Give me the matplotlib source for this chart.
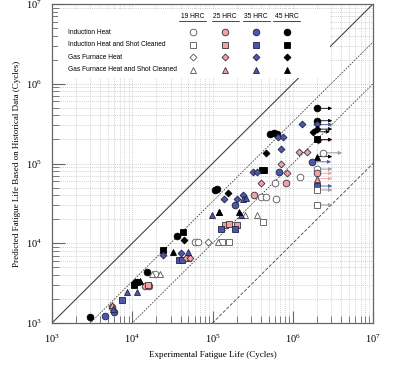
import matplotlib
matplotlib.use("Agg")
import matplotlib.pyplot as plt
from matplotlib.patches import Rectangle

# ---- data (cycles) -------------------------------------------------------
# Induction Heat (circles)
ih19_x = [19000, 60300, 66000, 407000, 468000, 617000, 603000, 1.23e6]
ih19_y = [4110, 10500, 10500, 38500, 38500, 36300, 56200, 68200]
ih25_x = [5550, 14500, 16000, 329000, 813000]
ih25_y = [1600, 2900, 2950, 40300, 56200]
ih35_x = [4570, 5870, 190000, 676000]
ih35_y = [1220, 1390, 30200, 78900]
ih45_x = [2980, 10800, 15400, 35800, 107000, 115000, 525000, 580000, 630000]
ih45_y = [1190, 3150, 4330, 12400, 46600, 47500, 234000, 240000, 236000]

# Induction Heat and Shot Cleaned (squares)
ihsc19_x = [130000, 161000, 427000]
ihsc19_y = [10500, 10500, 18600]
ihsc25_x = [15500, 50000, 143000, 160000, 200000]
ihsc25_y = [3000, 6500, 17000, 17500, 17000]
ihsc35_x = [7380, 38000, 41300, 129000, 190000]
ihsc35_y = [1940, 6170, 6170, 15000, 15000]
ihsc45_x = [10500, 11500, 24400, 42600, 410000, 440000]
ihsc45_y = [3000, 3300, 8220, 13700, 83200, 83200]

# Gas Furnace Heat (diamonds)
gf19_x = [88700]
gf19_y = [10500]
gf25_x = [47000, 52000, 398000, 713000, 841000, 1.2e6, 1.49e6]
gf25_y = [6500, 6500, 57500, 100000, 75300, 141000, 141000]
gf35_x = [24400, 40500, 140000, 200000, 243000, 324000, 355000, 713000,
          646000, 759000, 1.32e6]
gf35_y = [7130, 7590, 35500, 36300, 40000, 78900, 78900, 151000,
          217000, 217000, 309000]
gf45_x = [11500, 44600, 157000, 460000]
gf45_y = [3300, 11000, 43100, 136000]

# Gas Furnace Heat and Shot Cleaned (triangles)
gfsc19_x = [17800, 22000, 118000, 251000, 355000]
gfsc19_y = [4110, 4110, 10500, 22600, 22600]
gfsc25_x = [5600]
gfsc25_y = [1700]
gfsc35_x = [5700, 8670, 11500, 49000, 97700, 229000, 240000, 265000]
gfsc35_y = [1500, 2430, 2430, 7830, 22600, 22600, 35500, 36500]
gfsc45_x = [12500, 32500, 120000, 122000, 214000]
gfsc45_y = [3400, 7830, 24900, 24400, 24400]

# run-outs (no failure): start, arrow end, level, treatment, hardness
run_x = [2.0e6, 2.0e6, 2.0e6, 1.8e6, 2.0e6, 2.05e6, 2.0e6, 2.4e6, 2.0e6,
         1.74e6, 2.0e6, 2.0e6, 2.0e6, 2.0e6, 2.0e6, 2.0e6]
run_end = [3.1e6, 3.1e6, 3.1e6, 2.9e6, 3.1e6, 3.1e6, 3.1e6, 4.1e6, 3.1e6,
           3.0e6, 3.1e6, 3.1e6, 3.1e6, 3.1e6, 3.1e6, 3.1e6]
run_y = [492000, 344000, 309000, 250000, 270000, 195000, 200000, 136000,
         122000, 105000, 85100, 75300, 64600, 52200, 46600, 30200]
run_treat = ["IH", "IH", "GF", "GF", "GF", "GF", "IHSC", "IH", "GFSC",
             "IH", "IH", "IH", "GFSC", "IHSC", "IHSC", "IHSC"]
run_hrc = [45, 45, 35, 45, 45, 25, 45, 19, 45, 35, 19, 25, 25, 35, 19, 19]

treatments = ["Induction Heat", "Induction Heat and Shot Cleaned",
              "Gas Furnace Heat", "Gas Furnace Heat and Shot Cleaned"]
hardness = ["19 HRC", "25 HRC", "35 HRC", "45 HRC"]

# ---- style ---------------------------------------------------------------
MARK = {"IH": "o", "IHSC": "s", "GF": "D", "GFSC": "^"}
SIZE = {"IH": 4.8, "IHSC": 4.6, "GF": 3.5, "GFSC": 4.8}
FILL = {19: "white", 25: "#f2a0a8", 35: "#4b58a8", 45: "black"}
EDGE = {19: "#555555", 25: "#333333", 35: "#222244", 45: "black"}
SERIF = "Liberation Serif"
SANS = "Liberation Sans"

series = [
    ("IH", 19, ih19_x, ih19_y), ("IH", 25, ih25_x, ih25_y),
    ("IH", 35, ih35_x, ih35_y), ("IH", 45, ih45_x, ih45_y),
    ("IHSC", 19, ihsc19_x, ihsc19_y), ("IHSC", 25, ihsc25_x, ihsc25_y),
    ("IHSC", 35, ihsc35_x, ihsc35_y), ("IHSC", 45, ihsc45_x, ihsc45_y),
    ("GF", 19, gf19_x, gf19_y), ("GF", 25, gf25_x, gf25_y),
    ("GF", 35, gf35_x, gf35_y), ("GF", 45, gf45_x, gf45_y),
    ("GFSC", 19, gfsc19_x, gfsc19_y), ("GFSC", 25, gfsc25_x, gfsc25_y),
    ("GFSC", 35, gfsc35_x, gfsc35_y), ("GFSC", 45, gfsc45_x, gfsc45_y),
]

fig = plt.figure(figsize=(4.0, 3.68), dpi=100)
ax = fig.add_axes([0.13, 0.1223, 0.8025, 0.8668])
ax.set_xscale("log")
ax.set_yscale("log")
ax.set_xlim(1e3, 1e7)
ax.set_ylim(1e3, 1e7)

ax.grid(True, which="both", color="#c4c4c4", linestyle=(0, (1.5, 1.5)),
        linewidth=0.5)
ax.set_axisbelow(True)

# 1:1, 1:3, 1:10 and 1:100 reference lines
ref = [1e3, 1e7]
ax.plot(ref, ref, color="#444444", lw=0.8, zorder=2)
ax.plot(ref, [v / 3 for v in ref], color="#444444", lw=0.6,
        ls=(0, (2, 1.5)), zorder=2)
ax.plot(ref, [v / 10 for v in ref], color="#444444", lw=0.6,
        ls=(0, (2, 1.5)), zorder=2)
ax.plot(ref, [v / 100 for v in ref], color="#444444", lw=0.6,
        ls=(0, (4, 2)), zorder=2)

for t, h, xs, ys in series:
    ax.plot(xs, ys, ls="none", marker=MARK[t], ms=SIZE[t],
            mfc=FILL[h], mec=EDGE[h], mew=0.6, zorder=4)

for x0, x1, y, t, h in zip(run_x, run_end, run_y, run_treat, run_hrc):
    col = "#888888" if h == 19 else FILL[h]
    ax.annotate("", xy=(x1, y), xytext=(x0, y), zorder=3,
                arrowprops=dict(arrowstyle="-|>", color=col, lw=0.6,
                                mutation_scale=5, shrinkA=0, shrinkB=0,
                                fc="white" if h == 19 else col))
    ax.plot([x0], [y], ls="none", marker=MARK[t], ms=SIZE[t],
            mfc=FILL[h], mec=EDGE[h], mew=0.6, zorder=4)

# legend panel: white box over the grid
ax.add_patch(Rectangle((0.019, 0.768), 0.847, 0.213, transform=ax.transAxes,
                       facecolor="white", edgecolor="none", zorder=5))
row_y = [0.912, 0.872, 0.833, 0.794]
col_x = [0.439, 0.539, 0.636, 0.732]
codes = ["IH", "IHSC", "GF", "GFSC"]
levels = [19, 25, 35, 45]
for i, name in enumerate(treatments):
    ax.text(0.05, row_y[i], name, transform=ax.transAxes, fontsize=4.8,
            family=SANS, va="center", zorder=6)
    for j, h in enumerate(levels):
        ax.plot([col_x[j]], [row_y[i]], transform=ax.transAxes, ls="none",
                marker=MARK[codes[i]], ms=SIZE[codes[i]], mfc=FILL[h],
                mec=EDGE[h], mew=0.6, zorder=6, clip_on=False)
for j, lab in enumerate(hardness):
    ax.text(col_x[j], 0.962, lab, transform=ax.transAxes, fontsize=4.8,
            family=SANS, ha="center", va="center", zorder=6)
    ax.plot([col_x[j] - 0.042, col_x[j] + 0.042], [0.947, 0.947],
            transform=ax.transAxes, color="black", lw=0.5, zorder=6)

# axes styling
for s in ax.spines.values():
    s.set_color("#666666")
    s.set_linewidth(0.9)
ax.tick_params(which="both", direction="in", top=False, right=False,
               color="#666666")
ax.tick_params(which="major", length=9, width=0.8, labelsize=7.5, pad=7)
ax.tick_params(which="minor", length=5, width=0.6)
for lab in ax.get_xticklabels() + ax.get_yticklabels():
    lab.set_family(SERIF)

ax.set_xlabel("Experimental Fatigue Life (Cycles)", family=SERIF,
              fontsize=6.5, labelpad=4)
ax.set_ylabel("Predicted Fatigue Life Based on Historical Data (Cycles)",
              family=SERIF, fontsize=6.5, labelpad=4)

fig.savefig("out.png", dpi=100)
